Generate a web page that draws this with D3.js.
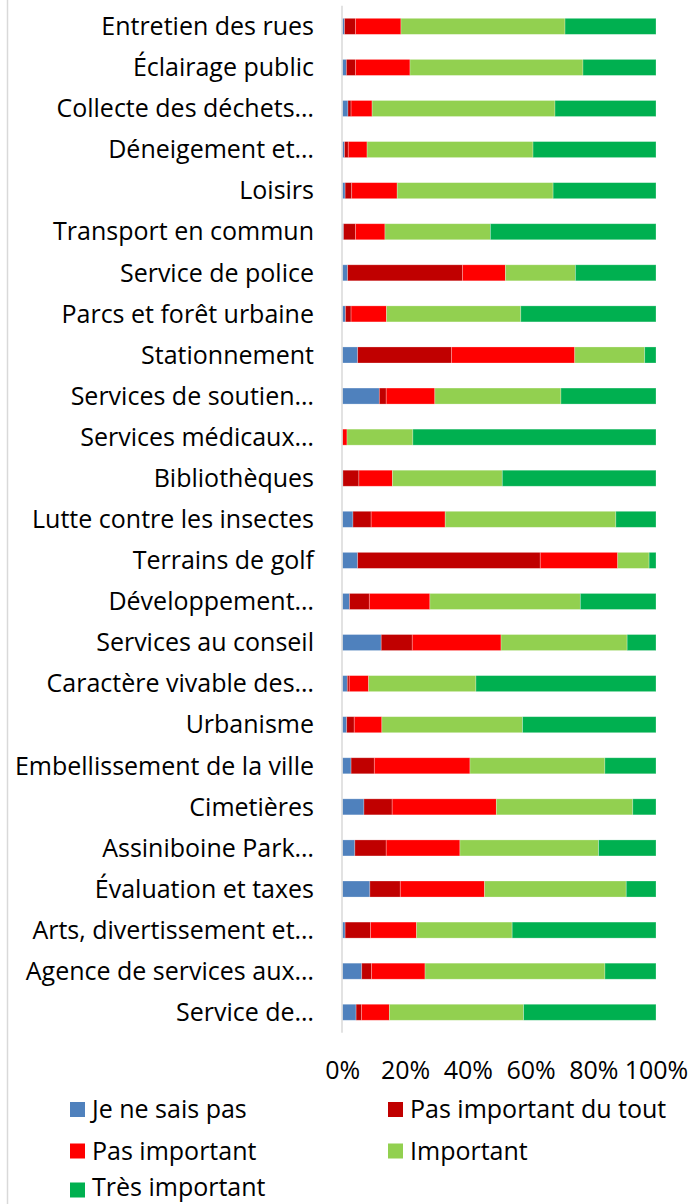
<!DOCTYPE html>
<html><head><meta charset="utf-8">
<script src="https://cdn.jsdelivr.net/npm/d3@7"></script>
<style>body{margin:0;background:#fff}svg{display:block}text{font-family:"Open Sans","Noto Sans",sans-serif;font-variant-ligatures:none}</style>
</head><body>
<svg id="c" width="692" height="1204"></svg>
<script>
const categories = ["Entretien des rues","Éclairage public","Collecte des déchets…","Déneigement et…","Loisirs","Transport en commun","Service de police","Parcs et forêt urbaine","Stationnement","Services de soutien…","Services médicaux…","Bibliothèques","Lutte contre les insectes","Terrains de golf","Développement…","Services au conseil","Caractère vivable des…","Urbanisme","Embellissement de la ville","Cimetières","Assiniboine Park…","Évaluation et taxes","Arts, divertissement et…","Agence de services aux…","Service de…"];
const seriesNames = ["Je ne sais pas","Pas important du tout","Pas important","Important","Très important"];
const jeNeSaisPas   = [0.7,1.3,1.8,0.7,0.9,0.4,1.7,1.0,4.9,11.8,0.0,0.2,3.4,4.9,2.3,12.4,1.6,1.4,2.8,6.9,4.0,8.8,0.9,6.2,4.4];
const pasDuTout     = [3.5,2.9,1.0,1.2,2.1,3.8,36.6,1.8,29.9,2.2,0.0,5.1,5.8,58.2,6.3,9.9,0.6,2.4,7.4,9.0,10.0,9.7,8.1,3.1,1.7];
const pasImportant  = [14.5,17.4,6.7,6.0,14.5,9.4,13.7,11.3,39.3,15.5,1.5,10.7,23.6,24.7,19.3,28.3,6.2,8.8,30.5,33.2,23.5,26.9,14.7,17.1,8.9];
const important     = [52.3,55.2,58.3,52.9,49.7,33.6,22.3,42.8,22.3,40.2,21.0,35.1,54.4,10.0,47.9,40.2,34.2,44.8,43.0,43.5,44.2,45.2,30.5,57.4,42.8];
const tresImportant = [29.0,23.3,32.2,39.2,32.8,52.8,25.7,43.1,3.6,30.3,77.5,49.1,12.8,2.2,24.1,9.2,57.4,42.5,16.3,7.4,18.3,9.5,45.9,16.3,42.2];
const tickValues = [0,0.2,0.4,0.6,0.8,1.0];
const colors = ["#4F81BD","#C00000","#FF0000","#92D050","#00B050"];

const rows = categories.map((c,i)=>({cat:c,"Je ne sais pas":jeNeSaisPas[i],"Pas important du tout":pasDuTout[i],"Pas important":pasImportant[i],"Important":important[i],"Très important":tresImportant[i]}));
const stack = d3.stack().keys(seriesNames).offset(d3.stackOffsetExpand)(rows);

const svg = d3.select("#c");
const x = d3.scaleLinear().domain([0,1]).range([342.3,656]);
const y = d3.scaleBand().domain(categories).range([5.8,1032.8]).paddingInner(0.61).paddingOuter(0.305);
const color = d3.scaleOrdinal().domain(seriesNames).range(colors);
const FS = 25;

svg.append("line").attr("x1",7.5).attr("x2",7.5).attr("y1",0).attr("y2",1204).attr("stroke","#d9d9d9").attr("stroke-width",1.5);

svg.append("g").selectAll("g").data(stack).join("g").attr("fill",d=>color(d.key))
  .selectAll("rect").data(d=>d).join("rect")
  .attr("x",d=>x(d[0])).attr("width",d=>Math.max(0,x(d[1])-x(d[0])))
  .attr("y",d=>y(d.data.cat)).attr("height",y.bandwidth())
  .attr("stroke","#ffffff").attr("stroke-opacity",0.35).attr("stroke-width",0.75);

svg.append("line").attr("x1",342).attr("x2",342).attr("y1",5.8).attr("y2",1032.8).attr("stroke","#d9d9d9").attr("stroke-width",1.5);

const yAxis = d3.axisLeft(y).tickSize(0).tickPadding(0);
const gy = svg.append("g").attr("transform","translate(314,0)").call(yAxis);
gy.select(".domain").remove();
gy.selectAll("text").attr("font-size",FS).attr("font-family",null).attr("fill","#000").attr("dy","0.35em").attr("x",0);

const xAxis = d3.axisBottom(x).tickValues(tickValues).tickFormat(d3.format(".0%")).tickSize(0).tickPadding(0);
const gx = svg.append("g").attr("transform","translate(0,1061)").call(xAxis);
gx.select(".domain").remove();
gx.selectAll("text").attr("font-size",FS).attr("font-family",null).attr("fill","#000").attr("dy","0.71em");

const legPos = [[70,1109.5],[388,1109.5],[70,1151],[388,1151],[70,1190]];
const lg = svg.append("g").selectAll("g").data(seriesNames).join("g")
  .attr("transform",(d,i)=>`translate(${legPos[i][0]},${legPos[i][1]})`);
lg.append("rect").attr("x",0).attr("y",-7.5).attr("width",15).attr("height",15).attr("fill",d=>color(d));
lg.append("text").attr("x",22).attr("dy",(d,i)=>i===4?"0.24em":"0.35em").attr("font-size",FS).attr("fill","#000").text(d=>d);
</script>
</body></html>
